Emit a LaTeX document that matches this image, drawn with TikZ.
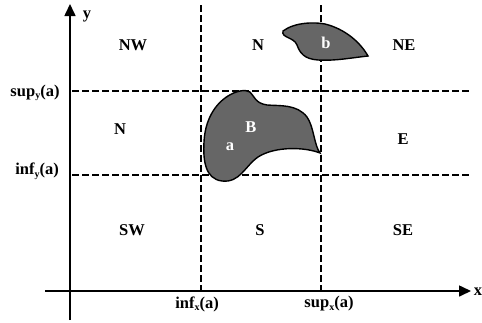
\documentclass[tikz,border=0pt]{standalone}
\usepackage{fontspec}
\setmainfont{Liberation Serif}
\usetikzlibrary{arrows.meta}
\begin{document}
\begin{tikzpicture}[x=1pt,y=-1pt,
  lbl/.style={font=\bfseries\fontsize{16.5}{18}\selectfont, inner sep=0pt},
  wlbl/.style={lbl, text=white},
  axis/.style={line width=1.6pt, -{Triangle[length=12pt,width=11pt]}},
  grid/.style={line width=1.5pt, dash pattern=on 7pt off 3pt},
  blob/.style={fill=black!60, draw=black, line width=1.4pt}
]
\newcommand{\subl}[1]{\raisebox{-0.35ex}{\fontsize{10}{11}\selectfont #1}}
\useasboundingbox (0,0) rectangle (482,322);
% axes
\coordinate (yb) at (70,320);
\coordinate (yt) at (70,4);
\coordinate (xl) at (45,291);
\coordinate (xr) at (471,291);
\draw[axis] (yb) -- (yt);
\draw[axis] (xl) -- (xr);
\node[lbl] (ylab) at (87,16) {y};
\node[lbl] (xlab) at (478,292) {x};
% grid lines
\coordinate (v1t) at (201,5);
\coordinate (v1b) at (201,291);
\coordinate (v2t) at (321,5);
\coordinate (v2b) at (321,291);
\coordinate (h1l) at (72,91);
\coordinate (h1r) at (470,91);
\coordinate (h2l) at (72,175);
\coordinate (h2r) at (470,175);
\draw[grid] (v1t) -- (v1b);
\draw[grid] (v2t) -- (v2b);
\draw[grid] (h1l) -- (h1r);
\draw[grid] (h2l) -- (h2r);
% blob B
\draw[blob] (250,92) .. controls (255,97) and (255,103) .. (267,105)
  .. controls (280,106) and (297,104) .. (307,117)
  .. controls (314,127) and (314,145) .. (320,153)
  .. controls (305,147) and (275,146) .. (258,157)
  .. controls (245,166) and (240,183) .. (222,181)
  .. controls (205,179) and (203,160) .. (204,142)
  .. controls (205,120) and (215,104) .. (228,96)
  .. controls (236,91) and (245,89) .. (250,92) -- cycle;
% blob b
\draw[blob] (283,31) .. controls (295,22) and (315,22) .. (325,24)
  .. controls (345,29) and (360,42) .. (368,56)
  .. controls (350,58) and (335,61) .. (318,60)
  .. controls (304,59) and (300,53) .. (297,45)
  .. controls (294,37) and (281,38) .. (283,31) -- cycle;
% region labels
\node[lbl] (nw) at (133,45) {NW};
\node[lbl] (n1) at (258,45) {N};
\node[lbl] (ne) at (404,45) {NE};
\node[lbl] (n2) at (120,129) {N};
\node[lbl] (e) at (403,139) {E};
\node[lbl] (sw) at (132,230) {SW};
\node[lbl] (s) at (260,230) {S};
\node[lbl] (se) at (403,230) {SE};
% blob labels
\node[wlbl] (B) at (251,127) {B};
\node[wlbl] (a) at (230,147) {a};
\node[wlbl] (b) at (326,43) {b};
% bound labels
\node[lbl] (supy) at (35,93) {sup\subl{y}(a)};
\node[lbl] (infy) at (37,171) {inf\subl{y}(a)};
\node[lbl] (infx) at (197,304) {inf\subl{x}(a)};
\node[lbl] (supx) at (329,304) {sup\subl{x}(a)};
\end{tikzpicture}
\end{document}
